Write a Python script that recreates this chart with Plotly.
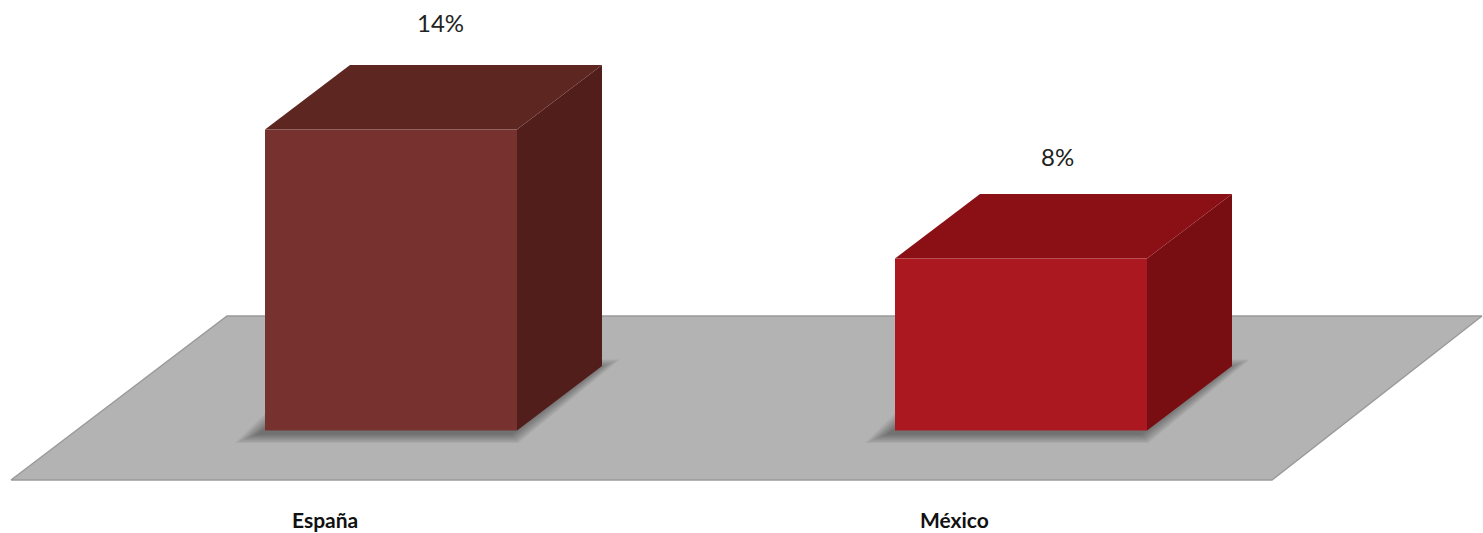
import plotly.graph_objects as go

# ---- data ----
categories = ["España", "México"]
values = [14, 8]
value_labels = ["14%", "8%"]

# ---- style constants ----
front_colors = ["#77322F", "#AB1820"]
top_colors = ["#5E2621", "#8A1016"]
side_colors = ["#521E1C", "#780D12"]
FLOOR_COLOR = "#B3B3B3"
FLOOR_EDGE = "#9A9A9A"

W, H = 1483, 533
PX_PER_X = 630.0     # pixels per category step
PX_PER_Y = 21.5      # pixels per percentage point
X_RANGE = [-391 / PX_PER_X, (W - 391) / PX_PER_X]
Y_RANGE = [-(533 - 430.5) / PX_PER_Y, 430.5 / PX_PER_Y]

HALF_W = 126 / PX_PER_X          # half bar width
DX = 85 / PX_PER_X               # depth offset x
DY = 64.5 / PX_PER_Y             # depth offset y

# floor geometry (in axis units)
FLOOR_FRONT_Y = -(480 - 430.5) / PX_PER_Y
FLOOR_BACK_Y = (430.5 - 316) / PX_PER_Y
FLOOR_FL = (11 - 391) / PX_PER_X
FLOOR_FR = (1272 - 391) / PX_PER_X
FLOOR_BL = (227 - 391) / PX_PER_X
FLOOR_BR = (1482 - 391) / PX_PER_X

LABEL_DX = [0.078, 0.058]
LABEL_DY = [5.0, 4.75]

fig = go.Figure()


def poly(xs, ys, color, opacity=1.0, line_color=None, line_width=0):
    fig.add_trace(go.Scatter(
        x=list(xs) + [xs[0]], y=list(ys) + [ys[0]],
        mode="lines", fill="toself", fillcolor=color,
        line=dict(color=line_color or color, width=line_width),
        opacity=opacity, hoverinfo="skip", showlegend=False))


# floor
poly([FLOOR_FL, FLOOR_FR, FLOOR_BR, FLOOR_BL],
     [FLOOR_FRONT_Y, FLOOR_FRONT_Y, FLOOR_BACK_Y, FLOOR_BACK_Y],
     FLOOR_COLOR, line_color=FLOOR_EDGE, line_width=1.5)

# soft shadows (blurred footprint)
for i, v in enumerate(values):
    x0, x1 = i - HALF_W, i + HALF_W
    shift_y = -3 / PX_PER_Y
    shift_x = -6 / PX_PER_X
    for r in [24, 21, 18, 15, 12, 9, 6, 3]:
        ex = r / PX_PER_X
        ey = r * 0.4 / PX_PER_Y
        xs = [x0 - ex + shift_x, x1 + ex * 0.3 + shift_x, x1 + DX + ex + shift_x, x0 + DX - ex + shift_x]
        ys = [0 - ey + shift_y, 0 - ey + shift_y, DY + ey + shift_y, DY + ey + shift_y]
        poly(xs, ys, "#000000", opacity=0.05)

# bars
for i, v in enumerate(values):
    x0, x1 = i - HALF_W, i + HALF_W
    # side face
    poly([x1, x1 + DX, x1 + DX, x1], [0, DY, v + DY, v], side_colors[i])
    # top face
    poly([x0, x1, x1 + DX, x0 + DX], [v, v, v + DY, v + DY], top_colors[i])
    # front face
    poly([x0, x1, x1, x0], [0, 0, v, v], front_colors[i])

# value labels
for i, v in enumerate(values):
    fig.add_annotation(x=i + LABEL_DX[i], y=v + LABEL_DY[i], text=value_labels[i],
                       showarrow=False, xref="x", yref="y",
                       font=dict(family="Lato, Open Sans, sans-serif", size=24, color="#222222"))

# category labels
for i, c in enumerate(categories):
    fig.add_annotation(x=i - 0.105, y=-(519 - 430.5) / PX_PER_Y, text="<b>" + c + "</b>",
                       showarrow=False, xref="x", yref="y",
                       font=dict(family="Lato, Open Sans, sans-serif", size=21, color="#111111"))

fig.update_xaxes(range=X_RANGE, visible=False, fixedrange=True)
fig.update_yaxes(range=Y_RANGE, visible=False, fixedrange=True)
fig.update_layout(width=W, height=H, margin=dict(l=0, r=0, t=0, b=0),
                  plot_bgcolor="white", paper_bgcolor="white",
                  showlegend=False, hovermode=False)

fig.write_html("out.html", config={"displayModeBar": False},
               post_script="document.body.style.margin='0px';document.body.style.overflow='hidden';")
